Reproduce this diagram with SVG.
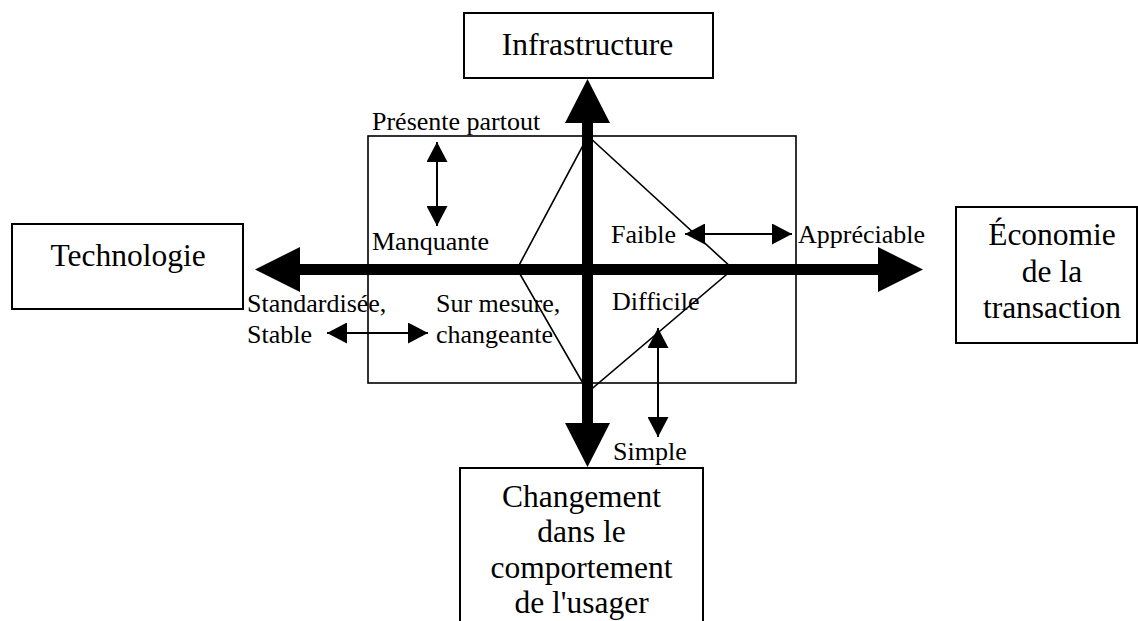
<svg xmlns="http://www.w3.org/2000/svg" width="1138" height="621" viewBox="0 0 1138 621">
  <style>
    .box { fill: #fff; stroke: #000; stroke-width: 2; }
    .big { font-family: "Liberation Serif", "Times New Roman", serif; font-size: 31.5px; fill: #000; text-anchor: middle; }
    .lbl { font-family: "Liberation Serif", "Times New Roman", serif; font-size: 26px; fill: #000; }
    .thin { fill: none; stroke: #000; stroke-width: 1.6; }
    .sa { stroke: #000; stroke-width: 2; fill: none; marker-start: url(#h); marker-end: url(#h); }
    .axis { fill: #000; stroke: none; }
  </style>
  <defs>
    <marker id="h" viewBox="0 0 20 21" refX="20" refY="10.5" markerWidth="20" markerHeight="21" markerUnits="userSpaceOnUse" orient="auto-start-reverse">
      <path d="M0,0 L20,10.5 L0,21 Z" fill="#000"/>
    </marker>
  </defs>

  <g id="frame">
    <rect x="368" y="136" width="428" height="247" class="thin"/>
    <polygon points="588,136 733,269 588,392 517,269" class="thin"/>
  </g>

  <g id="connectors">
    <path class="axis" d="M587.5,79 L610,123 L593,123 L593,423 L610,423 L587.5,467 L565,423 L582,423 L582,123 L565,123 Z"/>
    <path class="axis" d="M255,269.5 L300,247 L300,264 L878,264 L878,247 L923,269.5 L878,292 L878,275 L300,275 L300,292 Z"/>
    <line class="sa" x1="437" y1="142" x2="437" y2="226"/>
    <line class="sa" x1="327" y1="333" x2="428" y2="333"/>
    <line class="sa" x1="685" y1="234" x2="792" y2="234"/>
    <line class="sa" x1="658" y1="328" x2="658" y2="437"/>
  </g>

  <g id="labels">
    <text class="lbl" x="372" y="130">Présente partout</text>
    <text class="lbl" x="372" y="250">Manquante</text>
    <text class="lbl" x="247" y="312">Standardisée,</text>
    <text class="lbl" x="247" y="343">Stable</text>
    <text class="lbl" x="436" y="312">Sur mesure,</text>
    <text class="lbl" x="436" y="343">changeante</text>
    <text class="lbl" x="611" y="243">Faible</text>
    <text class="lbl" x="798" y="243">Appréciable</text>
    <text class="lbl" x="612" y="310">Difficile</text>
    <text class="lbl" x="613" y="460">Simple</text>
  </g>

  <g id="node-infrastructure">
    <rect class="box" x="464" y="13" width="249" height="65"/>
    <text class="big" x="587.5" y="55">Infrastructure</text>
  </g>

  <g id="node-technologie">
    <rect class="box" x="12" y="224" width="231" height="85"/>
    <text class="big" x="128" y="266">Technologie</text>
  </g>

  <g id="node-economie">
    <rect class="box" x="956" y="207" width="181" height="136"/>
    <text class="big" x="1052" y="245">Économie</text>
    <text class="big" x="1052" y="282">de la</text>
    <text class="big" x="1052" y="318">transaction</text>
  </g>

  <g id="node-changement">
    <rect class="box" x="460" y="468" width="243" height="170"/>
    <text class="big" x="581.5" y="507">Changement</text>
    <text class="big" x="581.5" y="542">dans le</text>
    <text class="big" x="581.5" y="578">comportement</text>
    <text class="big" x="581.5" y="613">de l'usager</text>
  </g>
</svg>
